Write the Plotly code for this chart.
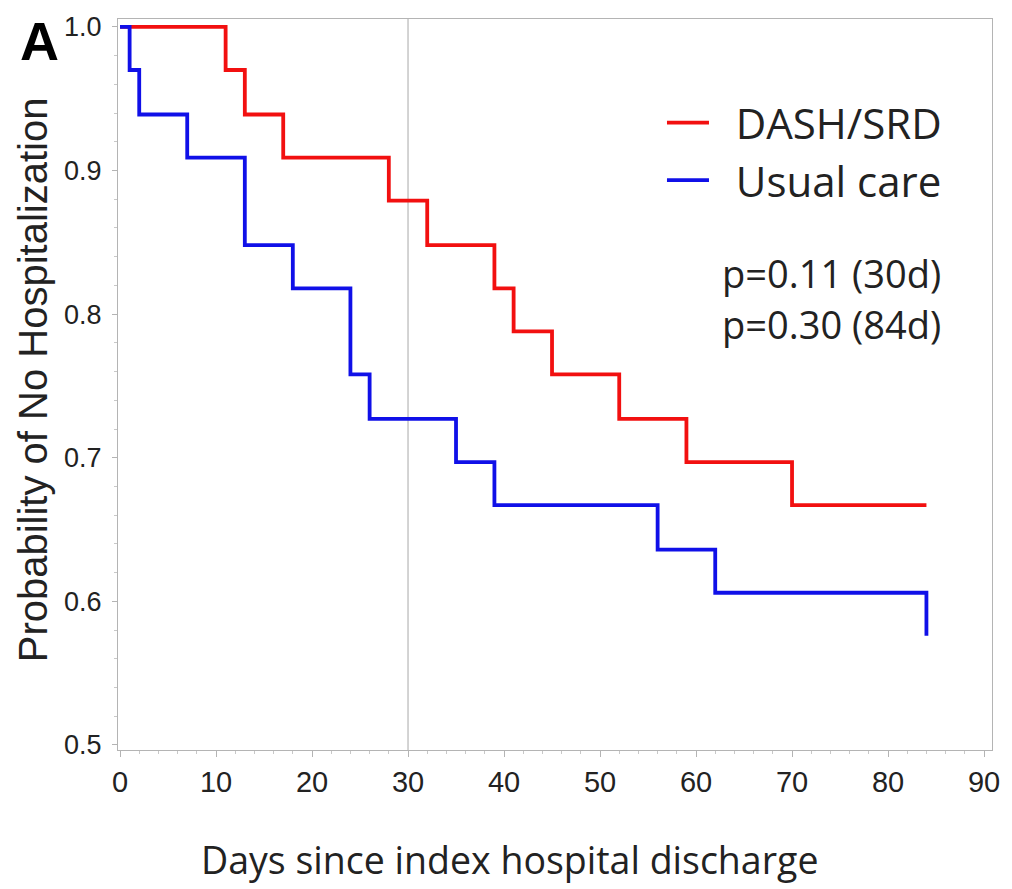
import plotly.graph_objects as go

# Kaplan-Meier step data (event days and survival after each event)
dash_days = [0, 11, 13, 17, 28, 32, 39, 41, 45, 52, 59, 70, 84]
dash_surv = [1.0, 0.970, 0.939, 0.909, 0.879, 0.848, 0.818, 0.788, 0.758, 0.727, 0.697, 0.667, 0.667]

usual_days = [0, 1, 2, 7, 13, 18, 24, 26, 35, 39, 56, 62, 84]
usual_surv = [1.0, 0.970, 0.939, 0.909, 0.848, 0.818, 0.758, 0.727, 0.697, 0.667, 0.636, 0.606, 0.576]

x_ticks = [0, 10, 20, 30, 40, 50, 60, 70, 80, 90]
y_ticks = [0.5, 0.6, 0.7, 0.8, 0.9, 1.0]
y_tick_labels = ["0.5", "0.6", "0.7", "0.8", "0.9", "1.0"]
ref_day = 30
series_names = ["DASH/SRD", "Usual care"]
p_texts = ["p=0.11 (30d)", "p=0.30 (84d)"]

CAL = "Open Sans, Lato, sans-serif"
ARIAL = "Liberation Sans, Arial, sans-serif"
NARROW = "Liberation Sans Narrow, Arial Narrow, Liberation Sans, sans-serif"
GAP = "\u00a0\u00a0"

fig = go.Figure()
fig.add_trace(go.Scatter(x=dash_days, y=dash_surv, mode="lines", line_shape="hv",
                         line=dict(color="#f21010", width=3.8), name=GAP + series_names[0]))
fig.add_trace(go.Scatter(x=usual_days, y=usual_surv, mode="lines", line_shape="hv",
                         line=dict(color="#1010e8", width=3.8), name=GAP + series_names[1]))

fig.add_vline(x=ref_day, line=dict(color="#a8a8a8", width=1), layer="below")

fig.update_layout(
    width=1012, height=889,
    margin=dict(l=118, r=12, t=16, b=139),
    paper_bgcolor="white", plot_bgcolor="white",
    showlegend=True,
    legend=dict(x=0.6224, y=0.9046, xanchor="left", yanchor="top",
                font=dict(family=CAL, size=42, color="#222"),
                bgcolor="rgba(0,0,0,0)", tracegroupgap=0, itemwidth=42),
    xaxis=dict(range=[-0.21, 90.83], tickmode="array", tickvals=x_ticks,
               ticktext=[str(v) for v in x_ticks],
               showgrid=False, zeroline=False,
               showline=True, linecolor="#b4b4b4", linewidth=1, mirror=True,
               ticks="outside", ticklen=6, tickcolor="#b4b4b4",
               minor=dict(dtick=2, ticks="outside", ticklen=3, tickcolor="#c8c8c8"),
               tickfont=dict(family=NARROW, size=29, color="#222"),
               ticklabelstandoff=0),
    yaxis=dict(range=[0.4965, 1.0055], tickmode="array", tickvals=y_ticks,
               ticktext=y_tick_labels,
               showgrid=False, zeroline=False,
               showline=True, linecolor="#b4b4b4", linewidth=1, mirror=True,
               ticks="outside", ticklen=5, tickcolor="#b4b4b4",
               minor=dict(dtick=0.02, ticks="outside", ticklen=3, tickcolor="#c8c8c8"),
               tickfont=dict(family=ARIAL, size=27, color="#222"),
               ticklabelstandoff=5),
)

annos = [
    dict(text="<b>A</b>", x=39, y=38, showarrow=False,
         font=dict(family=ARIAL, size=54, color="black")),
    dict(text="Days since index hospital discharge", x=513, y=860,
         showarrow=False, font=dict(family=CAL, size=37.5, color="#222")),
    dict(text="Probability of No Hospitalization", x=32, y=378, textangle=-90,
         showarrow=False, font=dict(family=ARIAL, size=40, color="#222")),
    dict(text=p_texts[0], x=951, y=271, xanchor="right", showarrow=False,
         font=dict(family=CAL, size=38, color="#222")),
    dict(text=p_texts[1], x=951, y=322, xanchor="right", showarrow=False,
         font=dict(family=CAL, size=38, color="#222")),
]
# convert pixel anchors to paper coords
W, H = 1012, 889
L, R, T, B = 118, 12, 16, 139
pw, ph = W - L - R, H - T - B
for a in annos:
    px, py = a["x"], a["y"]
    a["x"] = (px - L) / pw
    a["y"] = 1 - (py - T) / ph
    a["xref"] = "paper"
    a["yref"] = "paper"
    a.setdefault("xanchor", "center")
    a["yanchor"] = "middle"
fig.update_layout(annotations=annos)

fig.write_html("out.html")
